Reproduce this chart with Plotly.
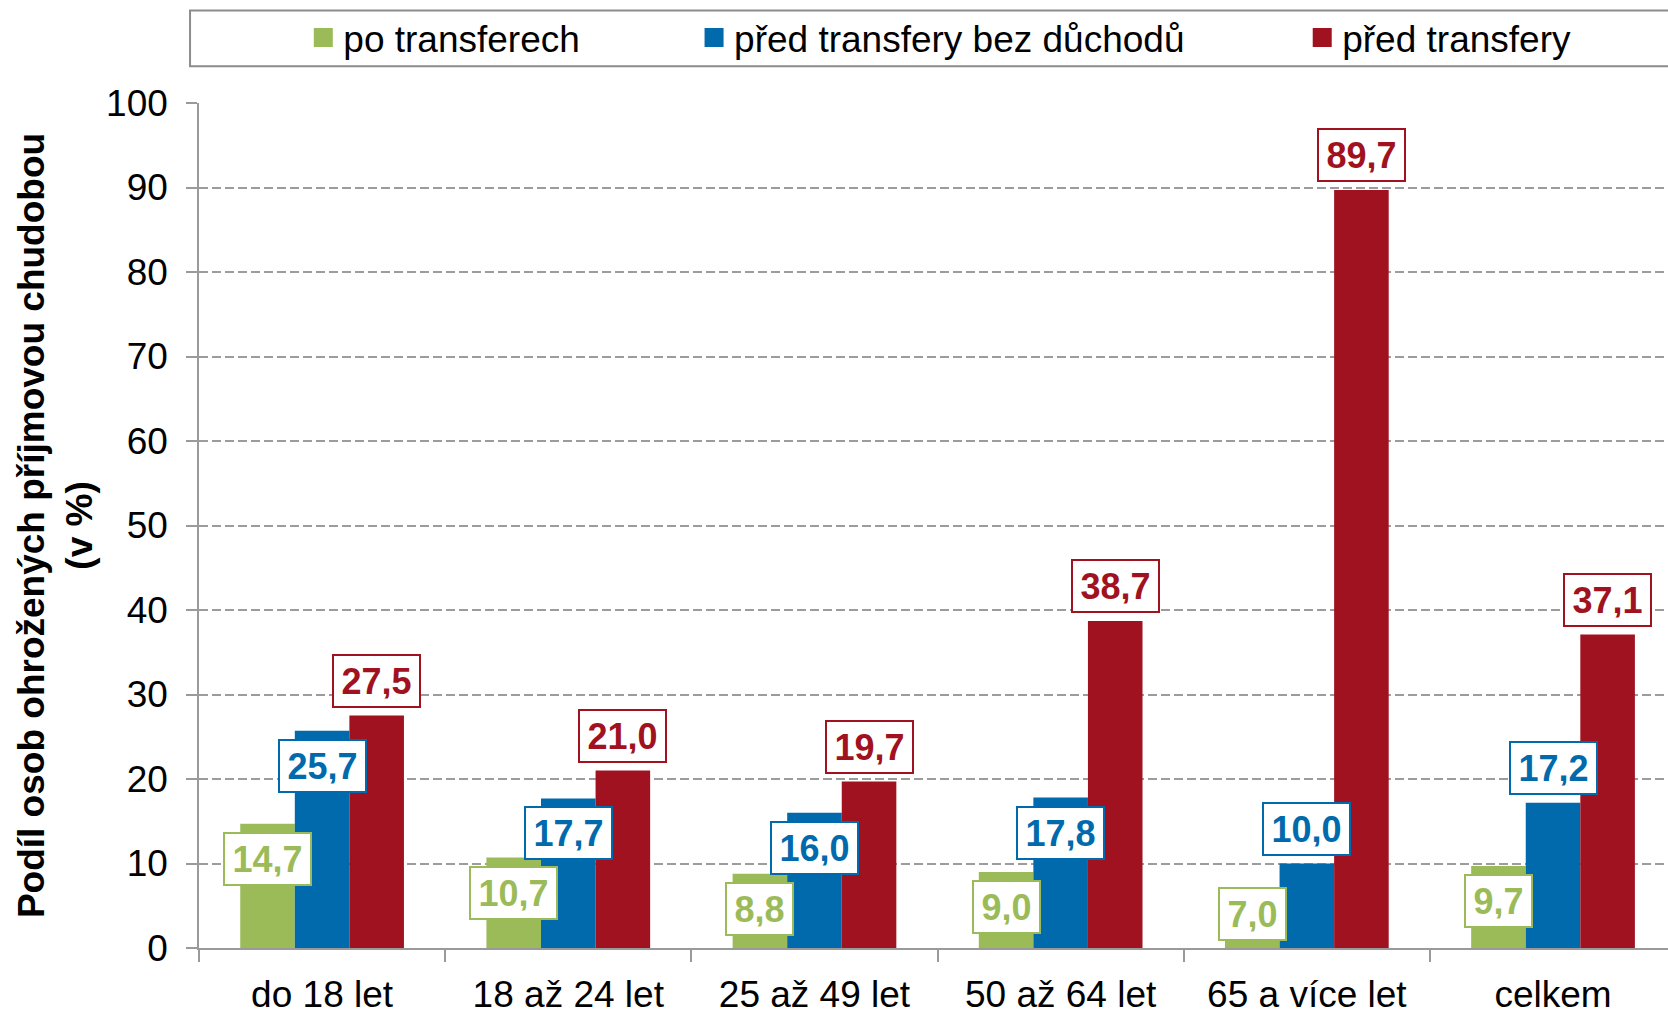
import plotly.graph_objects as go

# ---------------- data ----------------
categories = ["do 18 let", "18 až 24 let", "25 až 49 let", "50 až 64 let", "65 a více let", "celkem"]
series_names = ["po transferech", "před transfery bez důchodů", "před transfery"]
po_transferech = [14.7, 10.7, 8.8, 9.0, 7.0, 9.7]
pred_transfery_bez_duchodu = [25.7, 17.7, 16.0, 17.8, 10.0, 17.2]
pred_transfery = [27.5, 21.0, 19.7, 38.7, 89.7, 37.1]
y_tick_values = [0, 10, 20, 30, 40, 50, 60, 70, 80, 90, 100]
y_title = "Podíl osob ohrožených příjmovou chudobou<br>(v %)"

# label placement per series (inside end / outside end / at base)
label_placement = [
    ["in", "in", "in", "in", "base", "in"],
    ["in", "in", "in", "in", "out", "out"],
    ["out", "out", "out", "out", "out", "out"],
]

# ---------------- style ----------------
colors = ["#9BBB59", "#006AAC", "#A01220"]
FONT = "Liberation Sans, Arial, sans-serif"
AXIS_COL = "#9a9a9a"
bargap = 0.335
bar_w = (1 - bargap) / 3

all_series = [po_transferech, pred_transfery_bez_duchodu, pred_transfery]
x_idx = list(range(len(categories)))

fig = go.Figure()
for k, (name, vals) in enumerate(zip(series_names, all_series)):
    fig.add_trace(go.Bar(
        x=x_idx, y=vals, name=name, marker=dict(color=colors[k], line=dict(width=0)),
        showlegend=False, hoverinfo="skip"))

# legend proxies (square markers)
legend_ids = ["legend", "legend2", "legend3"]
for k, name in enumerate(series_names):
    fig.add_trace(go.Scatter(
        x=[None], y=[None], mode="markers", name=name,
        marker=dict(symbol="square", size=16, color=colors[k],
                    line=dict(color=colors[k], width=3)),
        legend=legend_ids[k]))

# data labels
annotations = []
for k, vals in enumerate(all_series):
    for i, v in enumerate(vals):
        pl = label_placement[k][i]
        if pl == "in":
            y, yanchor, yshift = v, "top", -8
        elif pl == "out":
            y, yanchor, yshift = v, "bottom", 8
        else:
            y, yanchor, yshift = 0, "bottom", 7
        annotations.append(dict(
            x=i + (k - 1) * bar_w, y=y, xref="x", yref="y",
            text=f"{v:.1f}".replace(".", ","), showarrow=False,
            xanchor="center", yanchor=yanchor, yshift=yshift,
            font=dict(family=FONT, size=36, color=colors[k], weight="bold"),
            bgcolor="white", bordercolor=colors[k], borderwidth=2, borderpad=7.5,
            height=35,
        ))

legend_common = dict(orientation="h", yanchor="middle", xanchor="left", y=1.077,
                     font=dict(family=FONT, size=37, color="black"),
                     bgcolor="rgba(0,0,0,0)", borderwidth=0, itemsizing="trace")

fig.update_layout(
    width=1668, height=1012,
    margin=dict(l=199, r=0, t=103, b=64, autoexpand=False),
    paper_bgcolor="white", plot_bgcolor="white",
    barmode="group", bargap=bargap, bargroupgap=0,
    font=dict(family=FONT, size=37, color="black"),
    annotations=annotations,
    legend=dict(x=0.071, **legend_common),
    legend2=dict(x=0.337, **legend_common),
    legend3=dict(x=0.751, **legend_common),
    shapes=[dict(type="rect", xref="paper", yref="paper",
                 x0=-0.0061, x1=1.05, y0=1.0435, y1=1.1095,
                 line=dict(color="#8c8c8c", width=2), fillcolor="rgba(0,0,0,0)")],
    xaxis=dict(
        range=[-0.5, 5.467], tickmode="array", tickvals=x_idx, ticktext=categories,
        ticks="", showline=True, linecolor=AXIS_COL, linewidth=1.5,
        showgrid=False, zeroline=False, ticklabelstandoff=13,
        tickfont=dict(family=FONT, size=37, color="black"),
        minor=dict(tickmode="array", tickvals=[i - 0.5 for i in range(len(categories) + 1)],
                   ticks="outside", ticklen=12, tickcolor=AXIS_COL, tickwidth=1.5,
                   showgrid=False),
    ),
    yaxis=dict(
        range=[0, 100], tickmode="array", tickvals=y_tick_values,
        ticks="outside", ticklen=11, tickcolor=AXIS_COL, tickwidth=1.5,
        showline=True, linecolor=AXIS_COL, linewidth=1.5,
        showgrid=True, gridcolor="#9c9c9c", gridwidth=1.5, griddash="9px,4px",
        zeroline=False, ticklabelstandoff=11,
        tickfont=dict(family=FONT, size=37, color="black"),
        title=dict(text="<b>" + y_title.replace("<br>", "</b><br><b>") + "</b>",
                   font=dict(family=FONT, size=37, color="black"), standoff=2),
    ),
)

fig.write_html("out.html", config={"displayModeBar": False},
               post_script="document.body.style.margin='0';")
